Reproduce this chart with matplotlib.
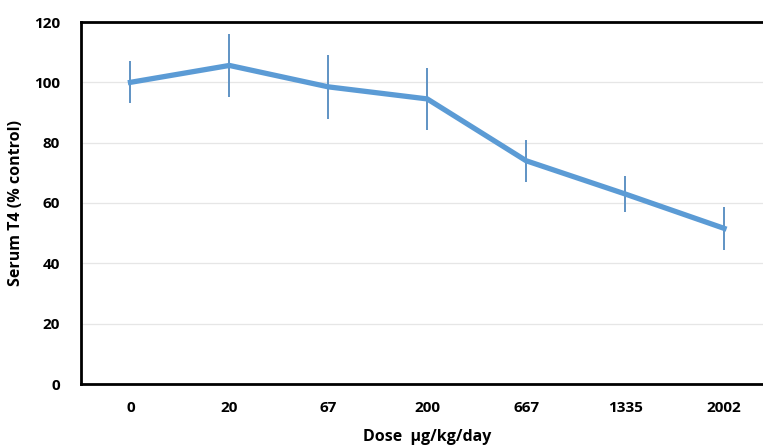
import numpy as np
import matplotlib
matplotlib.use('Agg')
import matplotlib.pyplot as plt

doses = ['0', '20', '67', '200', '667', '1335', '2002']
t4 = [100, 105.6, 98.5, 94.5, 74, 63, 51.6]
err = [7, 10.5, 10.5, 10.3, 7, 6, 7.2]

plt.rcParams['font.family'] = ['Open Sans', 'DejaVu Sans']

fig = plt.figure(figsize=(7.63, 4.45), dpi=100)
ax = fig.add_axes([81 / 763, 61 / 445, 692.5 / 763, 362 / 445])

x = np.arange(len(doses))
ax.errorbar(x, t4, yerr=err, fmt='none', ecolor='#5f93c4', elinewidth=1.4, capsize=0, zorder=3)
ax.plot(x, t4, color='#5b9bd5', lw=3.8, solid_joinstyle='miter', zorder=4)

ax.set_xlim(-0.5, 6.5)
ax.set_ylim(0, 120)
ax.set_yticks(np.arange(0, 121, 20))
ax.set_xticks(x)
ax.set_xticklabels(doses)
ax.grid(axis='y', color='#e6e6e6', lw=0.9)
ax.set_axisbelow(True)
ax.tick_params(length=0, labelsize=11, pad=12)
for lab in ax.get_xticklabels() + ax.get_yticklabels():
    lab.set_fontweight('bold')
ax.tick_params(axis='y', pad=15)
for s in ax.spines.values():
    s.set_linewidth(2)
    s.set_color('black')

ax.set_ylabel('Serum T4 (% control)', fontsize=11.5, fontweight='bold', labelpad=7)
ax.set_xlabel('Dose  µg/kg/day', fontsize=11.5, fontweight='bold', labelpad=10)

fig.savefig('out.png', dpi=100)
